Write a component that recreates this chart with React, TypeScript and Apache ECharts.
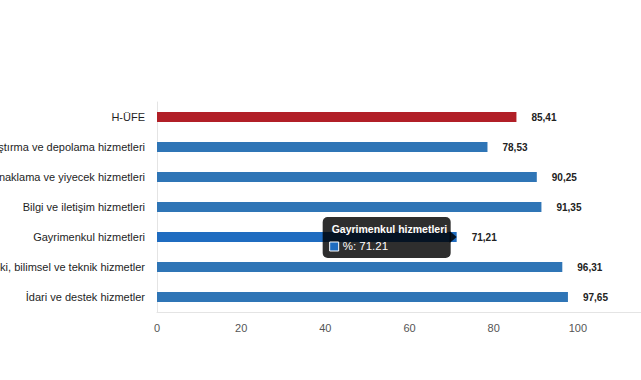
import React, { useEffect, useRef } from "react";
import * as echarts from "echarts";

const categories = [
  "H-ÜFE",
  "Ulaştırma ve depolama hizmetleri",
  "Konaklama ve yiyecek hizmetleri",
  "Bilgi ve iletişim hizmetleri",
  "Gayrimenkul hizmetleri",
  "Mesleki, bilimsel ve teknik hizmetler",
  "İdari ve destek hizmetler",
];
const values = [85.41, 78.53, 90.25, 91.35, 71.21, 96.31, 97.65];
const barColors = ["#b11f27", "#2f75b6", "#2f75b6", "#2f75b6", "#1f6cc0", "#2f75b6", "#2f75b6"];
const hoverIndex = 4;
const seriesName = "%";

export default function App() {
  const ref = useRef<HTMLDivElement>(null);
  useEffect(() => {
    document.body.style.margin = "0";
    const chart = echarts.init(ref.current!, null, { renderer: "svg" });
    const font = "'Liberation Sans', Arial, sans-serif";
    chart.setOption({
      animation: false,
      grid: { left: 157, right: -21, top: 102, bottom: 68, containLabel: false, outerBoundsMode: "none" },
      xAxis: {
        type: "value",
        min: 0,
        max: 120,
        interval: 20,
        axisLine: { show: true, lineStyle: { color: "#e4e4e4", width: 1 } },
        axisTick: { show: false },
        splitLine: { show: false },
        axisLabel: { color: "#555", fontSize: 11, fontFamily: font, margin: 10, showMaxLabel: false },
      },
      yAxis: {
        type: "category",
        data: categories,
        inverse: true,
        axisLine: { show: true, lineStyle: { color: "#e4e4e4", width: 1 } },
        axisTick: { show: false },
        axisLabel: { color: "#1e1e1e", fontSize: 11, fontFamily: font, margin: 12 },
      },
      series: [
        {
          name: seriesName,
          type: "bar",
          barWidth: 10,
          data: values.map((v, i) => ({ value: v, itemStyle: { color: barColors[i] } })),
          label: {
            show: true,
            position: "right",
            distance: 15,
            color: "#222",
            fontSize: 10,
            fontWeight: "bold",
            fontFamily: font,
            formatter: (p: any) => p.value.toFixed(2).replace(".", ","),
          },
        },
      ],
    });
    const [px, py] = chart.convertToPixel({ gridIndex: 0 }, [values[hoverIndex], categories[hoverIndex]]) as number[];
    const bx = px - 134;
    const by = py - 20;
    chart.setOption({
      graphic: [
        {
          type: "group",
          z: 100,
          zlevel: 0,
          children: [
            {
              type: "polygon",
              z: 100,
              shape: { points: [[px - 7, py - 6], [px, py], [px - 7, py + 6]] },
              style: { fill: "rgba(0,0,0,0.82)" },
            },
            {
              type: "rect",
              z: 100,
              shape: { x: bx, y: by, width: 128, height: 41, r: 5 },
              style: { fill: "rgba(0,0,0,0.82)" },
            },
            {
              type: "text",
              z: 101,
              x: bx + 9,
              y: by + 6,
              style: { text: categories[hoverIndex], fill: "#fff", fontSize: 10.5, fontWeight: "bold", fontFamily: font },
            },
            {
              type: "rect",
              z: 101,
              shape: { x: bx + 7, y: by + 25, width: 9, height: 9 },
              style: { fill: barColors[hoverIndex], stroke: "#fff", lineWidth: 1 },
            },
            {
              type: "text",
              z: 101,
              x: bx + 20,
              y: by + 23,
              style: { text: seriesName + ": " + values[hoverIndex].toFixed(2), fill: "#fff", fontSize: 11.5, fontFamily: font },
            },
          ],
        },
      ],
    });
    return () => chart.dispose();
  }, []);
  return <div ref={ref} style={{ width: 641, height: 380 }} />;
}
